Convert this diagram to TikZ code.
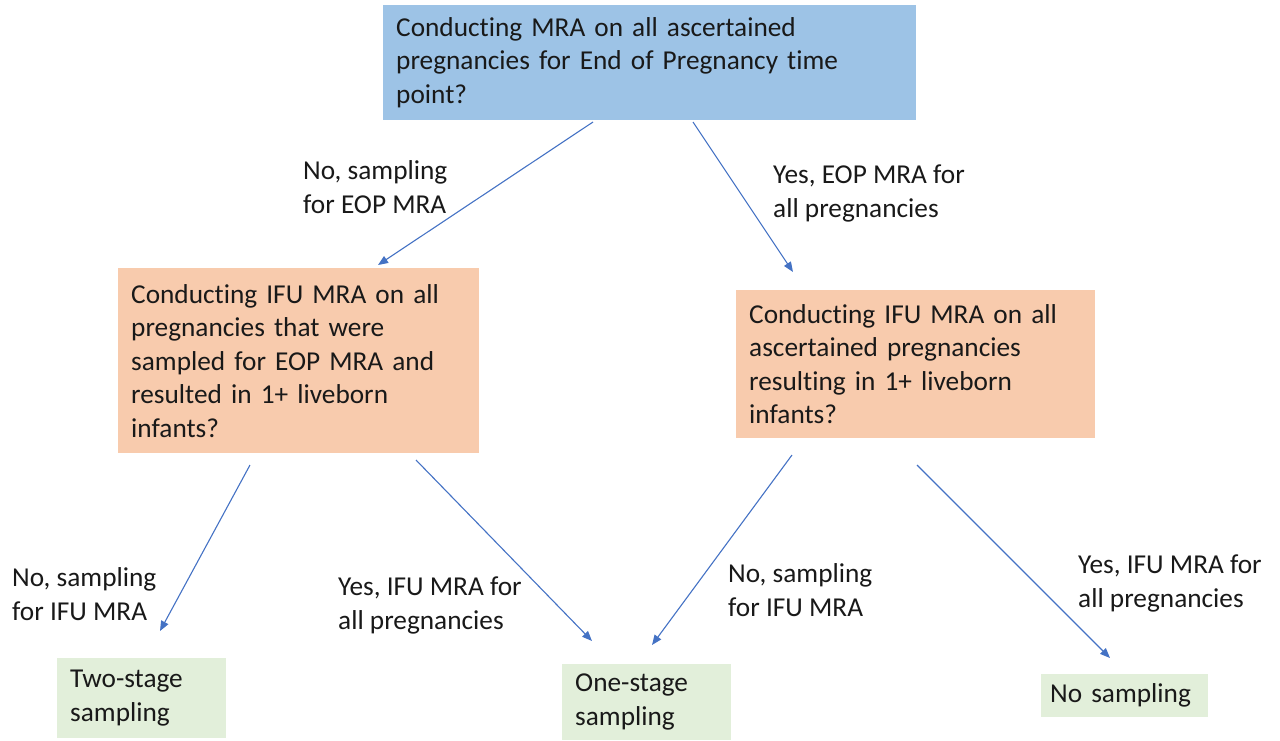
\documentclass[tikz,border=0pt]{standalone}
\usepackage{fontspec}
\setmainfont[Ligatures=NoCommon]{Carlito}
\usetikzlibrary{arrows.meta}
\definecolor{topblue}{HTML}{9DC3E6}
\definecolor{midorange}{HTML}{F8CBAD}
\definecolor{leafgreen}{HTML}{E2EFDA}
\definecolor{arrowblue}{HTML}{4472C4}
\tikzset{
  box/.style={anchor=north west, inner xsep=13pt, inner ysep=0pt, align=left,
    font=\fontsize{27.3}{33.5}\selectfont, text=black!90},
  lbl/.style={anchor=west, inner sep=0pt, align=left,
    font=\fontsize{27.3}{34}\selectfont, text=black!90},
  conn/.style={draw=arrowblue, line width=1.1pt, -{Triangle[length=10pt,width=8pt]}}
}
\begin{document}
\begin{tikzpicture}[x=1pt,y=-1pt]
\useasboundingbox (0,0) rectangle (1280,740);
% boxes
\node[box, fill=topblue, minimum width=533pt, minimum height=115pt, text width=507pt] (top) at (383,5)
  {Conducting MRA on all ascertained\\pregnancies for End of Pregnancy time\\point?};
\node[box, fill=midorange, minimum width=361pt, minimum height=185pt, text width=335pt] (left) at (118,268)
  {Conducting IFU MRA on all\\pregnancies that were\\sampled for EOP MRA and\\resulted in 1+ liveborn\\infants?};
\node[box, fill=midorange, minimum width=359pt, minimum height=148pt, text width=333pt] (right) at (736,290)
  {Conducting IFU MRA on all\\ascertained pregnancies\\resulting in 1+ liveborn\\infants?};
\node[box, fill=leafgreen, minimum width=169pt, minimum height=80pt, text width=143pt] (two) at (57,658)
  {Two-stage\\sampling};
\node[box, fill=leafgreen, minimum width=169pt, minimum height=76pt, text width=143pt] (one) at (562,664)
  {One-stage\\sampling};
\node[box, fill=leafgreen, inner xsep=9pt, minimum width=167pt, minimum height=43pt, text width=149pt] (none) at (1041,674)
  {No sampling};
% connector end points
\coordinate (a1) at (593,122); \coordinate (a2) at (378,265);
\coordinate (b1) at (693,122); \coordinate (b2) at (793,272);
\coordinate (c1) at (250,465); \coordinate (c2) at (160,631);
\coordinate (d1) at (416,460); \coordinate (d2) at (592,641);
\coordinate (e1) at (792,455); \coordinate (e2) at (652,645);
\coordinate (f1) at (917,465); \coordinate (f2) at (1110,658);
\draw[conn] (a1) -- (a2);
\draw[conn] (b1) -- (b2);
\draw[conn] (c1) -- (c2);
\draw[conn] (d1) -- (d2);
\draw[conn] (e1) -- (e2);
\draw[conn] (f1) -- (f2);
% labels
\node[lbl] (l1) at (303,187) {No, sampling\\for EOP MRA};
\node[lbl] (l2) at (773,193) {Yes, EOP MRA for\\all pregnancies};
\node[lbl] (l3) at (12,594) {No, sampling\\for IFU MRA};
\node[lbl] (l4) at (338,605) {Yes, IFU MRA for\\all pregnancies};
\node[lbl] (l5) at (728,590) {No, sampling\\for IFU MRA};
\node[lbl] (l6) at (1078,583) {Yes, IFU MRA for\\all pregnancies};
\end{tikzpicture}
\end{document}
